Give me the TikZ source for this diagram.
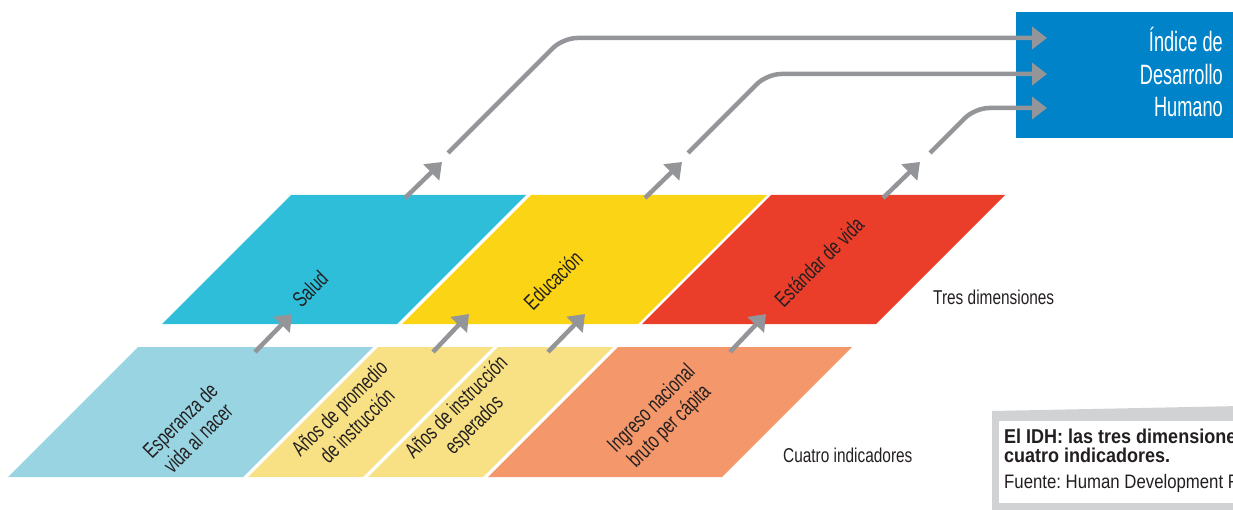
\documentclass[tikz,border=0pt]{standalone}
\usepackage{fontspec}
\newfontfamily\condfont{Liberation Sans}[FakeStretch=0.77]
\newfontfamily\lblfont{Liberation Sans}[FakeStretch=0.70]
\newfontfamily\notefont{Liberation Sans}[FakeStretch=0.86,BoldFeatures={FakeStretch=0.9}]
\newfontfamily\boxfont{Liberation Sans}[FakeStretch=0.65]
\usetikzlibrary{arrows.meta}

\definecolor{saludc}{HTML}{2FBED9}
\definecolor{educc}{HTML}{FBD415}
\definecolor{vidac}{HTML}{EA3E2B}
\definecolor{esperc}{HTML}{98D4E2}
\definecolor{aniosc}{HTML}{F8E184}
\definecolor{ingrc}{HTML}{F4976A}
\definecolor{idhblue}{HTML}{0083C9}
\definecolor{arrgray}{HTML}{939598}
\definecolor{capgray}{HTML}{D1D2D3}
\definecolor{inkc}{HTML}{231F20}

\begin{document}
\frenchspacing
\begin{tikzpicture}[x=1pt,y=-1pt,
  lbl/.style={font=\lblfont\fontsize{22}{25}\selectfont, rotate=45, align=center, text=inkc, inner sep=0pt},
  tag/.style={font=\condfont\fontsize{20}{21}\selectfont, text=inkc, inner sep=0pt, anchor=base west},
  arr/.style={draw=arrgray, line width=4.5pt, -{Triangle[length=15pt,width=22pt]}},
  link/.style={arr, rounded corners=14pt}]
\useasboundingbox (0,0) rectangle (1233,510);

% cuatro indicadores
\fill[esperc] (8,477) -- (243,477) -- (373,347) -- (138,347) -- cycle;
\fill[aniosc] (248,477) -- (363,477) -- (493,347) -- (378,347) -- cycle;
\fill[aniosc] (368,477) -- (483,477) -- (613,347) -- (498,347) -- cycle;
\fill[ingrc] (488,477) -- (722,477) -- (852,347) -- (618,347) -- cycle;

% tres dimensiones
\fill[saludc] (162,324) -- (397,324) -- (526,195) -- (291,195) -- cycle;
\fill[educc] (402,324) -- (638,324) -- (767,195) -- (531,195) -- cycle;
\fill[vidac] (642,324) -- (876,324) -- (1005,195) -- (771,195) -- cycle;

\node[lbl] (esperanza) at (189,429) {Esperanza de\\vida al nacer};
\node[lbl] (promedio) at (348,417) {Años de promedio\\de instrucción};
\node[lbl] (esperados) at (466,417) {Años de instrucción\\esperados};
\node[lbl] (ingreso) at (661,418) {Ingreso nacional\\bruto per cápita};
\node[lbl] (salud) at (310,289) {Salud};
\node[lbl] (educacion) at (553,280) {Educación};
\node[lbl] (estandar) at (819,262) {Estándar de vida};

\node[tag] (tres) at (933,305) {Tres dimensiones};
\node[tag] (cuatro) at (783,462) {Cuatro indicadores};

% indice
\node[fill=idhblue, anchor=north west, minimum width=230pt, minimum height=126pt, inner sep=0pt] (idh) at (1016,12) {};
\node[font=\boxfont\fontsize{28}{32.5}\selectfont, text=white, align=right, anchor=east, inner sep=0pt] (idhtext) at (1223,72) {Índice de\\Desarrollo\\Humano};

% flechas cortas
\coordinate (e1) at (255,352); \coordinate (s1) at (292,314);
\coordinate (e2) at (433,352); \coordinate (s2) at (469,314);
\coordinate (e3) at (548,352); \coordinate (s3) at (585,314);
\coordinate (e4) at (730,352); \coordinate (s4) at (766,314);
\draw[arr] (e1) -- (s1);
\draw[arr] (e2) -- (s2);
\draw[arr] (e3) -- (s3);
\draw[arr] (e4) -- (s4);

\coordinate (d1) at (405,198); \coordinate (t1) at (442,162);
\coordinate (d2) at (645,198); \coordinate (t2) at (682,162);
\coordinate (d3) at (883,198); \coordinate (t3) at (920,162);
\draw[arr] (d1) -- (t1);
\draw[arr] (d2) -- (t2);
\draw[arr] (d3) -- (t3);

% hacia el indice
\coordinate (l1) at (448,153); \coordinate (c1) at (563,38); \coordinate (i1) at (1047,38);
\coordinate (l2) at (688,153); \coordinate (c2) at (767,74); \coordinate (i2) at (1047,74);
\coordinate (l3) at (930,153); \coordinate (c3) at (975,108); \coordinate (i3) at (1047,108);
\draw[link] (l1) -- (c1) -- (i1);
\draw[link] (l2) -- (c2) -- (i2);
\draw[link] (l3) -- (c3) -- (i3);

% nota
\fill[capgray] (992,411) -- (1240,406) -- (1240,512) -- (992,512) -- cycle;
\fill[white] (999,421) rectangle (1240,503);
\node[font=\notefont\bfseries\fontsize{20}{19}\selectfont, text=inkc, align=left, anchor=north west, inner sep=0pt] (nota) at (1004,428.5) {El IDH: las tres dimensiones y\\cuatro indicadores.};
\node[font=\notefont\fontsize{19.5}{20}\selectfont, text=inkc, anchor=base west, inner sep=0pt] (fuente) at (1004,488) {Fuente: Human Development Report};
\end{tikzpicture}
\end{document}
